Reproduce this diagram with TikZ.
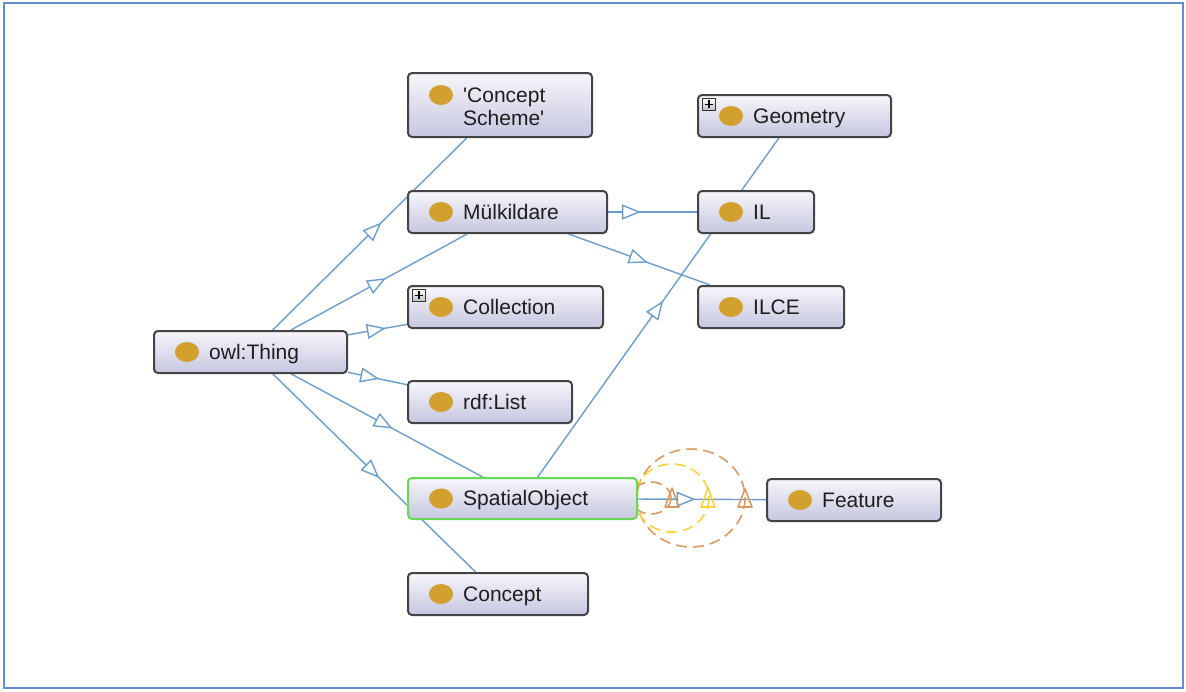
\documentclass[tikz,border=0pt]{standalone}
\usepackage{fontspec}
\setmainfont{Liberation Sans}
\newfontfamily\plainq{Liberation Sans}[Ligatures=TeXOff]
\usetikzlibrary{arrows.meta,decorations.markings,calc,backgrounds}
\definecolor{edgeblue}{HTML}{6A9DCC}
\definecolor{framec}{HTML}{5F8FD0}
\definecolor{boxborder}{HTML}{444444}
\definecolor{boxtop}{HTML}{F6F6FB}
\definecolor{boxbot}{HTML}{C6C6E0}
\definecolor{dotc}{HTML}{D2A02E}
\definecolor{txt}{HTML}{1E1E1E}
\definecolor{selgreen}{HTML}{66DA55}
\definecolor{loopor}{HTML}{D99A62}
\definecolor{loopye}{HTML}{F6D33A}
\tikzset{
  owlbox/.style={draw=boxborder, line width=2pt, rounded corners=4pt,
    top color=boxtop, bottom color=boxbot, inner sep=0pt},
  lbl/.style={inner sep=0pt, text=txt, font=\fontsize{21}{23}\selectfont,
    text height=14.8pt, text depth=0pt},
  edge/.style={draw=edgeblue, line width=1.4pt},
  tri/.tip={Triangle[length=19pt,width=15pt,fill=white,color=edgeblue]},
  arr/.style={postaction={decorate,decoration={markings,
    mark=at position #1 with {\arrow{tri}}}}},
  plusbox/.style={draw=black!80, line width=0.8pt, top color=white,
    bottom color=black!25, minimum width=13pt, minimum height=12pt, inner sep=0pt},
  loop/.style={line width=1.6pt, dash pattern=on 11pt off 6pt},
  uptri/.style={line width=1.6pt, line join=round}
}
% box with a coloured dot and a label
\newcommand\owlnode[7][]{%
  \node[owlbox,#1,minimum width=#5,minimum height=#6,anchor=west] (#2) at (#3,#4) {};
  \fill[dotc] ($(#2.west)+(34,0)$) ellipse (12 and 10);
  \node[lbl,anchor=west] (#2-t) at ($(#2.west)+(56,0)$) {#7};}
% small expand marker in the top left corner of a box
\newcommand\plusmark[1]{%
  \node[plusbox,anchor=north west] (#1-p) at ($(#1.north west)+(5,4)$) {};
  \draw[line width=1.3pt] ($(#1-p.center)+(-4,0)$) -- ($(#1-p.center)+(4,0)$);
  \draw[line width=1.3pt] ($(#1-p.center)+(0,-4)$) -- ($(#1-p.center)+(0,4)$);}
\begin{document}
\begin{tikzpicture}[x=1pt,y=-1pt]
\useasboundingbox (0,0) rectangle (1186,691);
\draw[framec, line width=2.5pt] (4,3) rectangle (1183,688);

% class boxes
\node[owlbox,minimum width=184,minimum height=64,anchor=west] (cs) at (407,105) {};
\fill[dotc] ($(cs.west)+(34,-10)$) ellipse (12 and 10);
\node[lbl,anchor=west] (cs-t) at ($(cs.west)+(56,-10)$) {{\plainq'}Concept};
\node[lbl,anchor=west] (cs-t2) at ($(cs.west)+(56,13)$) {Scheme{\plainq'}};

\owlnode{mul}{407}{212}{199}{42}{Mülkildare}
\owlnode{col}{407}{307}{195}{42}{Collection}
\plusmark{col}
\owlnode{thing}{153}{352}{193}{42}{owl:Thing}
\owlnode{rdf}{407}{402}{164}{42}{rdf:List}
\owlnode[draw=selgreen]{spa}{407}{498.5}{229}{41}{SpatialObject}
\owlnode{con}{407}{594}{180}{42}{Concept}
\owlnode{geo}{697}{116}{193}{42}{Geometry}
\plusmark{geo}
\owlnode{il}{697}{212}{116}{42}{IL}
\owlnode{ilce}{697}{307}{146}{42}{ILCE}
\owlnode{feat}{766}{500}{174}{42}{Feature}

% subclass links
\begin{scope}[on background layer]
\draw[edge, arr=0.56] (thing) -- (cs);
\draw[edge, arr=0.54] (thing) -- (mul);
\draw[edge, arr=0.64] (thing) -- (col);
\draw[edge, arr=0.53] (thing) -- (rdf);
\draw[edge, arr=0.53] (thing) -- (spa);
\draw[edge, arr=0.525] (thing) -- (con);
\draw[edge, arr=0.37] (mul) -- (il);
\draw[edge, arr=0.56] (mul) -- (ilce);
\draw[edge, arr=0.52] (spa) -- (geo);
\draw[edge, arr=0.45] (spa) -- (feat);
% property loops on SpatialObject
\draw[loopor, loop] (691,498) ellipse (54 and 49);
\draw[loopye, loop] (672,498) ellipse (37 and 34);
\draw[loopor, loop] (651,498) ellipse (20 and 16);
\end{scope}
\draw[loopor, uptri] (665,507) -- (672,488) -- (679,507) -- cycle;
\draw[loopye, uptri] (701,507) -- (708,488) -- (715,507) -- cycle;
\draw[loopor, uptri] (738,507) -- (745,489) -- (752,507) -- cycle;
\end{tikzpicture}
\end{document}
